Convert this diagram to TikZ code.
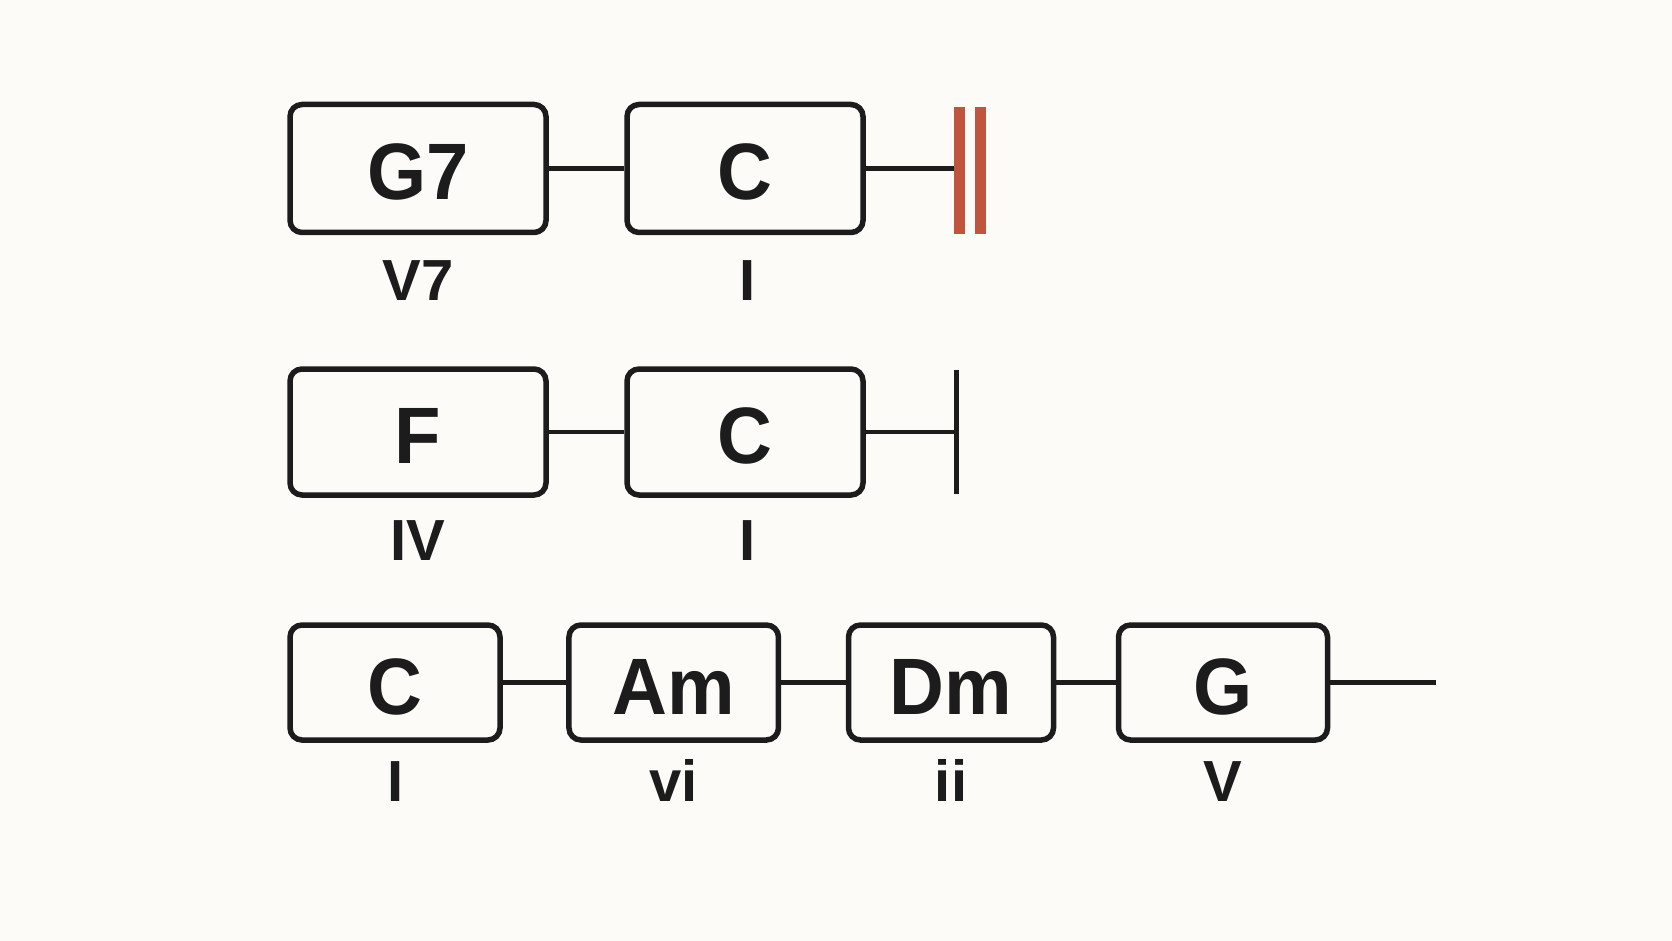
\documentclass[tikz,border=0pt]{standalone}
\usepackage{fontspec}
\setmainfont{Liberation Sans}
\newfontfamily\chordfont{Liberation Sans}[FakeStretch=0.95]
\definecolor{bg}{RGB}{252,251,248}
\definecolor{ink}{RGB}{28,28,28}
\definecolor{barred}{RGB}{193,84,61}
\begin{document}
\begin{tikzpicture}[x=1pt,y=-1pt,
  chord/.style={draw=ink, line width=5.5pt, rounded corners=12pt, inner sep=0pt,
    text=ink, font=\chordfont\fontsize{80}{96}\selectfont\bfseries, text height=63pt, text depth=0pt},
  rn/.style={text=ink, font=\fontsize{58}{70}\selectfont\bfseries, anchor=base, inner sep=0pt},
  link/.style={draw=ink, line width=4.5pt},
  redbar/.style={fill=barred, draw=none, inner sep=0pt, minimum width=11pt, minimum height=127pt},
  blackbar/.style={fill=ink, draw=none, inner sep=0pt, minimum width=4.5pt, minimum height=124pt}]
\fill[bg] (0,0) rectangle (1672,941);
\useasboundingbox (0,0) rectangle (1672,941);

% Row 1
\node[chord, minimum width=256pt, minimum height=128pt] (g7) at (418,168.5) {G7};
\node[chord, minimum width=236pt, minimum height=128pt] (c1) at (745,168.5) {C};
\node[redbar] (rb1) at (959.5,170.5) {};
\node[redbar] (rb2) at (980.5,170.5) {};
\draw[link] (g7.east) -- (c1.west);
\draw[link] (c1.east) -- (c1.east -| rb1.west);
\node[rn] (l1) at (418,300) {V7};
\node[rn] (l2) at (748,300) {I};

% Row 2
\node[chord, minimum width=256pt, minimum height=126pt] (f) at (418,432) {F};
\node[chord, minimum width=236pt, minimum height=126pt] (c2) at (745,432) {C};
\node[blackbar] (bb) at (956.5,432) {};
\draw[link] (f.east) -- (c2.west);
\draw[link] (c2.east) -- (c2.east -| bb.center);
\node[rn] (l3) at (418,560) {IV};
\node[rn] (l4) at (748,560) {I};

% Row 3
\node[chord, minimum width=210pt, minimum height=115pt] (c3) at (395,682.5) {C};
\node[chord, minimum width=209.5pt, minimum height=115pt] (am) at (673.7,682.5) {Am};
\node[chord, minimum width=205pt, minimum height=115pt] (dm) at (951,682.5) {Dm};
\node[chord, minimum width=209pt, minimum height=115pt] (gg) at (1223,682.5) {G};
\coordinate (endr3) at (1436,682.5);
\draw[link] (c3.east) -- (am.west);
\draw[link] (am.east) -- (dm.west);
\draw[link] (dm.east) -- (gg.west);
\draw[link] (gg.east) -- (endr3);
\node[rn] (l5) at (396,801.5) {I};
\node[rn] (l6) at (673.7,801.5) {vi};
\node[rn] (l7) at (951,801.5) {ii};
\node[rn] (l8) at (1223,801.5) {V};
\end{tikzpicture}
\end{document}
